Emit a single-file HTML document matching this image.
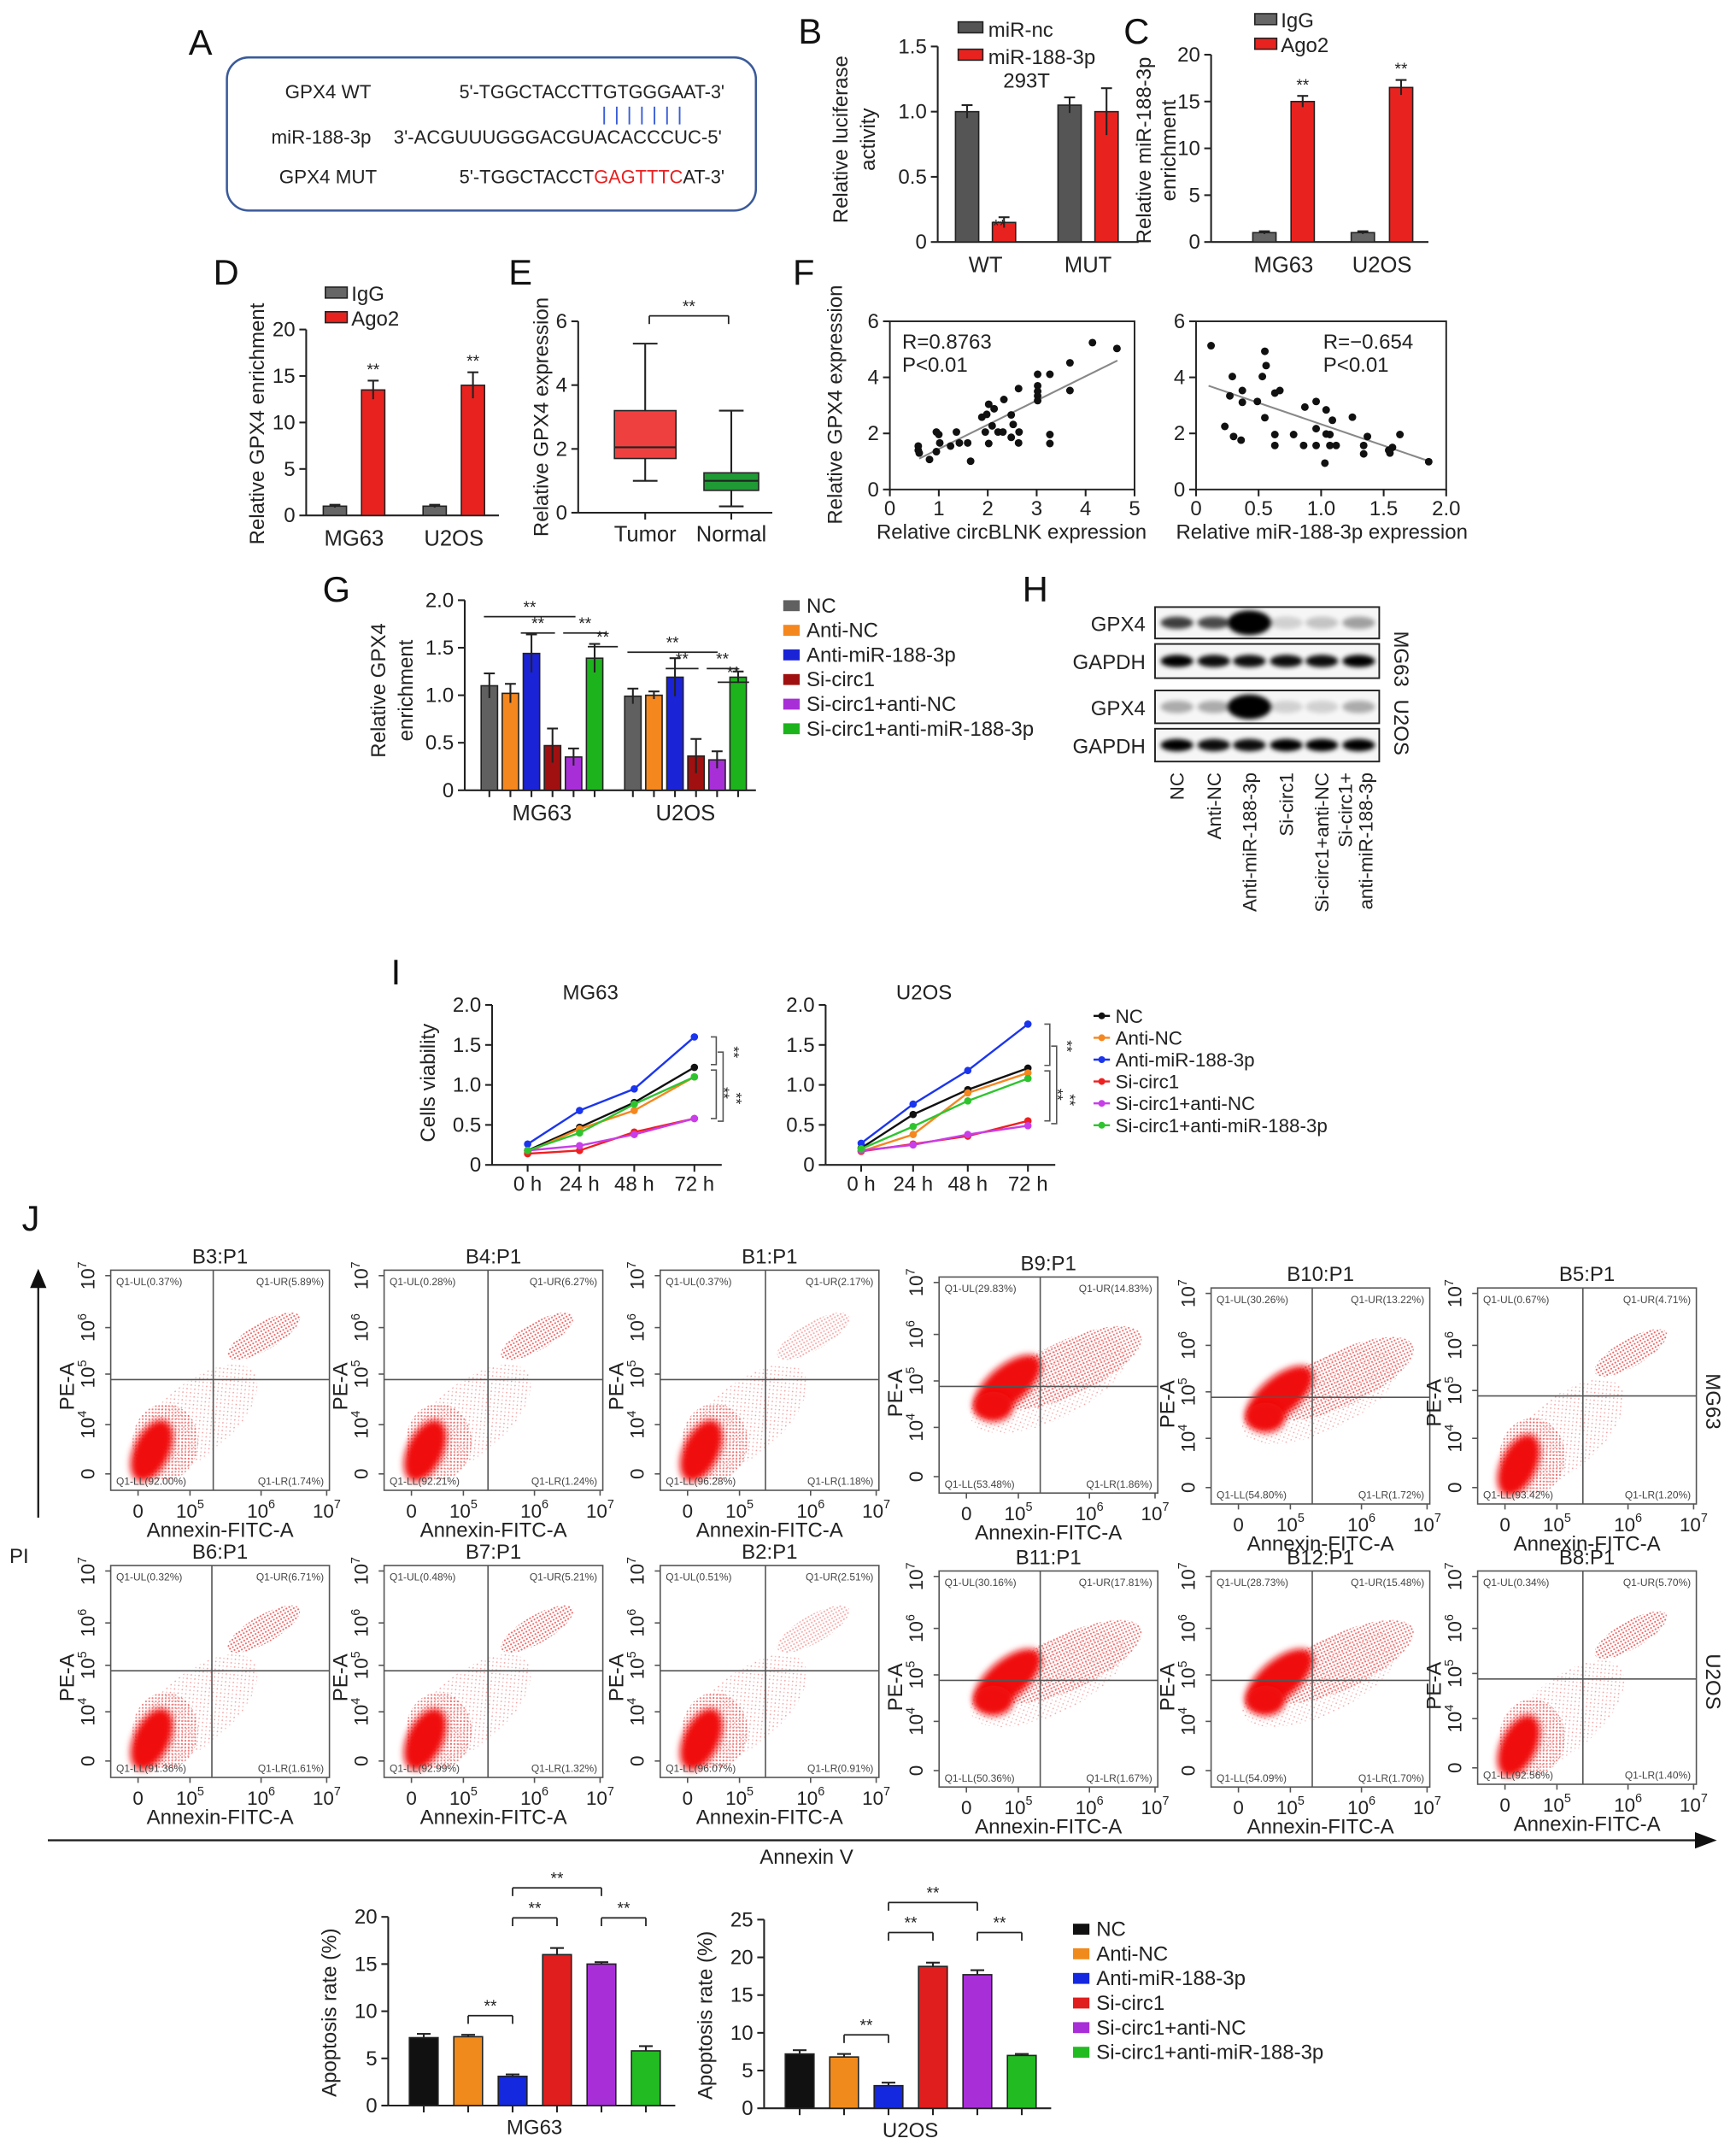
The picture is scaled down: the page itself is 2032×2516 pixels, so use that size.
<!DOCTYPE html>
<html><head><meta charset="utf-8"><style>
html,body{margin:0;padding:0;background:#fff;}
svg{display:block;font-family:"Liberation Sans",Arial,sans-serif;}
</style></head><body>
<svg id="fig" xmlns="http://www.w3.org/2000/svg" width="2032" height="2516" viewBox="0 0 1270 1572.5">
<defs>
<filter id="blur2" x="-50%" y="-50%" width="200%" height="200%"><feGaussianBlur stdDeviation="2.5"/></filter>
<filter id="blur5" x="-50%" y="-50%" width="200%" height="200%"><feGaussianBlur stdDeviation="5"/></filter>
<filter id="blurB" x="-50%" y="-50%" width="200%" height="200%"><feGaussianBlur stdDeviation="1.6"/></filter>
<pattern id="dotsS" width="4" height="4" patternUnits="userSpaceOnUse"><circle cx="1" cy="1" r="0.55" fill="#e02020"/><circle cx="3" cy="3" r="0.5" fill="#e86060"/></pattern>
<pattern id="dotsD" width="2.4" height="2.4" patternUnits="userSpaceOnUse"><circle cx="1.2" cy="1.2" r="0.7" fill="#e01818"/></pattern>
</defs>
<rect x="0" y="0" width="1270" height="1572.5" fill="#fff"/>
</svg>
<script>
const NS='http://www.w3.org/2000/svg';
const svg=document.getElementById('fig');

// ---------- DATA ----------
const bCats=['WT','MUT'];
const bNc=[1.0,1.05], bNcErr=[0.05,0.06];
const bMir=[0.15,1.0], bMirErr=[0.04,0.18];
const bTicks=[0,0.5,1.0,1.5], bTickLabels=['0','0.5','1.0','1.5'];

const cCats=['MG63','U2OS'];
const cIgg=[1,1], cIggErr=[0.15,0.15];
const cAgo=[15,16.5], cAgoErr=[0.6,0.8];
const dIgg=[1,1], dIggErr=[0.15,0.15];
const dAgo=[13.5,14], dAgoErr=[1.0,1.4];
const cdTicks=[0,5,10,15,20], cdTickLabels=['0','5','10','15','20'];

const eCats=['Tumor','Normal'];
const eMin=[1.0,0.2], eQ1=[1.7,0.7], eMed=[2.05,1.0], eQ3=[3.2,1.25], eMax=[5.3,3.2];
const eTicks=[0,2,4,6];

const fX1=[0.58,0.58,0.6,0.81,0.95,1.0,0.95,1.02,1.24,1.36,1.42,1.59,1.65,1.88,1.98,2.02,2.13,1.95,2.02,2.09,2.21,2.31,2.33,2.48,2.52,2.48,2.63,2.64,2.63,3.02,3.02,3.02,3.02,3.02,3.27,3.27,3.27,3.68,3.68,4.14,4.64];
const fY1=[1.55,1.4,1.3,1.07,2.05,1.96,1.35,1.66,1.55,2.05,1.66,1.66,1.01,2.58,2.68,3.04,2.88,2.05,1.64,2.27,2.05,2.05,3.21,2.66,2.32,1.86,3.6,2.05,1.66,4.11,3.7,3.5,3.34,3.17,4.11,1.96,1.64,4.52,3.53,5.24,5.03];
const fFit1=[[0.6,1.1],[4.65,4.6]];
const fX2=[0.12,0.23,0.27,0.29,0.3,0.36,0.37,0.37,0.49,0.53,0.55,0.56,0.55,0.63,0.67,0.63,0.63,0.78,0.86,0.87,0.96,0.96,0.96,1.03,1.04,1.04,1.07,1.07,1.09,1.12,1.25,1.34,1.34,1.37,1.54,1.55,1.57,1.63,1.86];
const fY2=[5.13,2.25,3.34,4.03,1.89,1.76,3.53,3.11,3.14,4.03,4.93,4.42,2.56,3.44,3.53,1.96,1.57,1.96,1.57,2.94,3.14,2.17,1.57,0.94,2.84,1.98,1.96,1.57,2.47,1.57,2.58,1.57,1.27,1.89,1.4,1.3,1.5,1.96,0.99];
const fFit2=[[0.1,3.7],[1.87,1.0]];

const gLegend=['NC','Anti-NC','Anti-miR-188-3p','Si-circ1','Si-circ1+anti-NC','Si-circ1+anti-miR-188-3p'];
const gCats=['MG63','U2OS'];
const gMG63=[1.1,1.02,1.44,0.47,0.35,1.39], gMG63Err=[0.13,0.1,0.2,0.18,0.09,0.15];
const gU2OS=[0.99,1.0,1.19,0.36,0.32,1.19], gU2OSErr=[0.08,0.04,0.2,0.18,0.09,0.06];
const gTicks=[0,0.5,1.0,1.5,2.0], gTickLabels=['0','0.5','1.0','1.5','2.0'];

const iTimes=['0 h','24 h','48 h','72 h'];
const iMG63=[[0.18,0.47,0.78,1.22],[0.16,0.45,0.68,1.1],[0.26,0.68,0.95,1.6],[0.14,0.18,0.41,0.58],[0.18,0.24,0.38,0.58],[0.18,0.4,0.76,1.1]];
const iU2OS=[[0.21,0.63,0.94,1.21],[0.17,0.38,0.9,1.15],[0.27,0.76,1.18,1.76],[0.17,0.26,0.36,0.55],[0.18,0.25,0.38,0.49],[0.2,0.48,0.8,1.08]];
const iTicks=[0,0.5,1.0,1.5,2.0], iTickLabels=['0','0.5','1.0','1.5','2.0'];

const apMG63=[7.2,7.3,3.1,16.0,15.0,5.8], apMG63Err=[0.4,0.2,0.2,0.7,0.2,0.5];
const apU2OS=[7.2,6.8,3.0,18.8,17.7,7.0], apU2OSErr=[0.5,0.4,0.4,0.5,0.6,0.2];
const apTicks1=[0,5,10,15,20], apTicks2=[0,5,10,15,20,25];

const flowTitles=['B3:P1','B4:P1','B1:P1','B9:P1','B10:P1','B5:P1','B6:P1','B7:P1','B2:P1','B11:P1','B12:P1','B8:P1'];
const flowUL=['0.37','0.28','0.37','29.83','30.26','0.67','0.32','0.48','0.51','30.16','28.73','0.34'];
const flowUR=['5.89','6.27','2.17','14.83','13.22','4.71','6.71','5.21','2.51','17.81','15.48','5.70'];
const flowLL=['92.00','92.21','96.28','53.48','54.80','93.42','91.36','92.99','96.07','50.36','54.09','92.56'];
const flowLR=['1.74','1.24','1.18','1.86','1.72','1.20','1.61','1.32','0.91','1.67','1.70','1.40'];

// ---------- helpers ----------
function mk(tag,attrs,name,parent){
  const el=document.createElementNS(NS,tag);
  for(const k in attrs) el.setAttribute(k,attrs[k]);
  
  
  (parent||svg).appendChild(el);
  return el;
}
function T(x,y,s,size,name,o){
  o=o||{};
  const a={x:x,y:y,'font-size':size,fill:o.fill||'#222','text-anchor':o.anchor||'middle'};
  if(o.rot!==undefined) a.transform='rotate('+o.rot+' '+x+' '+y+')';
  if(o.len) {a.textLength=o.len; a.lengthAdjust='spacingAndGlyphs';}
  const el=mk('text',a,name,o.parent);
  el.textContent=s;
  return el;
}
function L(x1,y1,x2,y2,name,o){o=o||{};return mk('line',{x1:x1,y1:y1,x2:x2,y2:y2,stroke:o.c||'#222','stroke-width':o.w||1.3},name,o.parent);}
function R(x,y,w,h,fill,name,o){o=o||{};return mk('rect',{x:x,y:y,width:w,height:h,fill:fill,stroke:o.s||'#222','stroke-width':o.sw===undefined?1:o.sw},name,o.parent);}
function yAxis(ax,y0,yt,vmax,ticks,labels,prefix,fs){
  const sc=v=>y0-(y0-yt)*v/vmax;
  L(ax,yt,ax,y0,prefix+'-y-axis');
  ticks.forEach((t,i)=>{
    L(ax-5,sc(t),ax,sc(t),prefix+'-y-tick');
    T(ax-8,sc(t)+5,labels?labels[i]:String(t),fs||15,prefix+'-y-tick-label',{anchor:'end'});
  });
  return sc;
}
function errBar(x,yv,ye,cap,name){
  L(x,yv,x,ye,name); L(x-cap,ye,x+cap,ye,name+'-cap');
}
function bracket(x1,x2,y,name,drop){
  L(x1,y,x2,y,name,{w:1.1});
  if(drop){L(x1,y,x1,y+drop,name+'-l',{w:1.1});L(x2,y,x2,y+drop,name+'-r',{w:1.1});}
  T((x1+x2)/2,y-3,'**',12,name+'-stars');
}
function panelLabel(x,y,s){T(x,y,s,26,'panel-label-'+s.toLowerCase(),{anchor:'start',fill:'#111'});}

// ---------- Panel A ----------
panelLabel(138,40,'A');
mk('rect',{x:166,y:42,width:387,height:112,rx:16,fill:'none',stroke:'#3a5a9a','stroke-width':1.6},'sequence-box');
T(240,72,'GPX4 WT',14,'gpx4-wt-label');
T(336,72,"5'-TGGCTACCTTGTGGGAAT-3'",14,'gpx4-wt-sequence',{anchor:'start',len:194});
T(235,105,'miR-188-3p',14,'mir-label');
T(288,105,"3'-ACGUUUGGGACGUACACCCUC-5'",14,'mir-sequence',{anchor:'start',len:240});
for(let k=0;k<7;k++) L(442+k*9.2,78,442+k*9.2,91,'pairing-line',{c:'#3a5ed8',w:1.2});
T(240,134,'GPX4 MUT',14,'gpx4-mut-label');
(function(){
  const t=mk('text',{x:336,y:134,'font-size':14,fill:'#222','text-anchor':'start',textLength:194,lengthAdjust:'spacingAndGlyphs'},'gpx4-mut-sequence');
  const a=mk('tspan',{},'mut-seq-start',t); a.textContent="5'-TGGCTACCT";
  const b=mk('tspan',{fill:'#e82020'},'mut-seq-mutated',t); b.textContent="GAGTTTC";
  const c=mk('tspan',{},'mut-seq-end',t); c.textContent="AT-3'";
})();

// ---------- generic grouped bars ----------
function groupBars(cfg){
  const sc=yAxis(cfg.ax,cfg.y0,cfg.yt,cfg.vmax,cfg.ticks,cfg.labels,cfg.name,cfg.fs);
  L(cfg.ax,cfg.y0,cfg.xEnd,cfg.y0,cfg.name+'-x-axis');
  const n=cfg.series.length;
  cfg.centers.forEach((cx,gi)=>{
    cfg.series.forEach((s,si)=>{
      const bx=cx+(si-(n-1)/2)*cfg.step;
      const v=s.vals[gi], e=s.errs[gi];
      R(bx-cfg.bw/2,sc(v),cfg.bw,cfg.y0-sc(v),s.color,cfg.name+'-bar',{s:'#222',sw:1});
      errBar(bx,sc(v),sc(v+e),cfg.cap||3,cfg.name+'-error-bar');
      if(cfg.lowErr) L(bx,sc(v),bx,sc(Math.max(0,v-e)),cfg.name+'-error-low');
      if(cfg.xticks) L(bx,cfg.y0,bx,cfg.y0+5,cfg.name+'-x-tick');
    });
    if(cfg.cats) T(cx,cfg.catY,cfg.cats[gi],cfg.catFs||16,cfg.name+'-category-label');
  });
  return sc;
}

// ---------- Panel B ----------
panelLabel(584,32,'B');
groupBars({name:'b',ax:686,y0:177,yt:34,vmax:1.5,ticks:bTicks,labels:bTickLabels,xEnd:833,centers:[721,796],step:27,bw:17,cap:4,
  series:[{vals:bNc,errs:bNcErr,color:'#555'},{vals:bMir,errs:bMirErr,color:'#e8231f'}],cats:bCats,catY:199,lowErr:true});
T(731,169,'**',12,'b-significance');
R(701,16,18,8,'#555','b-legend-swatch-nc');T(723,27,'miR-nc',15,'b-legend-nc',{anchor:'start'});
R(701,36,18,8,'#e8231f','b-legend-swatch-mir');T(723,47,'miR-188-3p',15,'b-legend-mir',{anchor:'start'});
T(751,64,'293T',15,'b-subtitle');
T(620,102,'Relative luciferase',15,'b-y-title-1',{rot:-90});
T(640,102,'activity',15,'b-y-title-2',{rot:-90});

// ---------- Panel C ----------
panelLabel(822,32,'C');
const scC=groupBars({name:'c',ax:886,y0:177,yt:40,vmax:20,ticks:cdTicks,labels:cdTickLabels,xEnd:1045,centers:[939,1011],step:28,bw:17,cap:4,
  series:[{vals:cIgg,errs:cIggErr,color:'#666'},{vals:cAgo,errs:cAgoErr,color:'#e8231f'}],cats:cCats,catY:199,lowErr:true});
cAgo.forEach((v,i)=>T([939,1011][i]+14,scC(v+cAgoErr[i])-4,'**',12,'c-significance'));
R(918,10,16,8,'#666','c-legend-swatch-igg');T(937,20,'IgG',15,'c-legend-igg',{anchor:'start'});
R(918,28,16,8,'#e8231f','c-legend-swatch-ago2');T(937,38,'Ago2',15,'c-legend-ago2',{anchor:'start'});
T(842,110,'Relative miR-188-3p',15,'c-y-title-1',{rot:-90});
T(860,110,'enrichment',15,'c-y-title-2',{rot:-90});

// ---------- Panel D ----------
panelLabel(156,208,'D');
const scD=groupBars({name:'d',ax:224,y0:377,yt:241,vmax:20,ticks:cdTicks,labels:cdTickLabels,xEnd:365,centers:[259,332],step:28,bw:17,cap:4,
  series:[{vals:dIgg,errs:dIggErr,color:'#666'},{vals:dAgo,errs:dAgoErr,color:'#e8231f'}],cats:cCats,catY:399,lowErr:true});
dAgo.forEach((v,i)=>T([259,332][i]+14,scD(v+dAgoErr[i])-4,'**',12,'d-significance'));
R(238,210,16,8,'#666','d-legend-swatch-igg');T(257,220,'IgG',15,'d-legend-igg',{anchor:'start'});
R(238,228,16,8,'#e8231f','d-legend-swatch-ago2');T(257,238,'Ago2',15,'d-legend-ago2',{anchor:'start'});
T(193,310,'Relative GPX4 enrichment',15,'d-y-title',{rot:-90});

// ---------- Panel E ----------
panelLabel(372,208,'E');
(function(){
  const y0=375,yt=235,sc=yAxis(423,y0,yt,6,eTicks,null,'e');
  L(423,y0,565,y0,'e-x-axis');
  const cx=[472,535], w=[45,40], fill=['#ef4040','#1f9a35'];
  eCats.forEach((c,i)=>{
    L(cx[i],sc(eMax[i]),cx[i],sc(eMin[i]),'e-whisker');
    L(cx[i]-9,sc(eMax[i]),cx[i]+9,sc(eMax[i]),'e-whisker-cap-top');
    L(cx[i]-9,sc(eMin[i]),cx[i]+9,sc(eMin[i]),'e-whisker-cap-bottom');
    R(cx[i]-w[i]/2,sc(eQ3[i]),w[i],sc(eQ1[i])-sc(eQ3[i]),fill[i],'e-box-'+c.toLowerCase());
    L(cx[i]-w[i]/2,sc(eMed[i]),cx[i]+w[i]/2,sc(eMed[i]),'e-median');
    L(cx[i],y0,cx[i],y0+5,'e-x-tick');
    T(cx[i],396,c,16,'e-category-label');
  });
  bracket(475,533,231,'e-significance',6);
  T(401,305,'Relative GPX4 expression',15,'e-y-title',{rot:-90});
})();

// ---------- Panel F ----------
panelLabel(580,208,'F');
function scatter(name,x0,x1,y0,y1,xmax,xt,xl,X,Y,fit,rtxt,ptxt,tx){
  const sx=v=>x0+(x1-x0)*v/xmax, sy=v=>y0-(y0-y1)*v/6;
  R(x0,y1,x1-x0,y0-y1,'none',name+'-frame',{sw:1.2});
  [0,2,4,6].forEach(t=>{L(x0-5,sy(t),x0,sy(t),name+'-y-tick');T(x0-8,sy(t)+5,String(t),15,name+'-y-tick-label',{anchor:'end'});});
  xt.forEach((t,i)=>{L(sx(t),y0,sx(t),y0+5,name+'-x-tick');T(sx(t),y0+19,xl[i],15,name+'-x-tick-label');});
  L(sx(fit[0][0]),sy(fit[0][1]),sx(fit[1][0]),sy(fit[1][1]),name+'-fit-line',{c:'#888',w:1.3});
  X.forEach((v,i)=>mk('circle',{cx:sx(v),cy:sy(Y[i]),r:2.8,fill:'#111'},name+'-point'));
  T(tx,y1+20,rtxt,15,name+'-r-value',{anchor:'start'});
  T(tx,y1+37,ptxt,15,name+'-p-value',{anchor:'start'});
}
scatter('f-left',651,830,358,235,5,[0,1,2,3,4,5],['0','1','2','3','4','5'],fX1,fY1,fFit1,'R=0.8763','P<0.01',660);
scatter('f-right',875,1058,358,235,2,[0,0.5,1,1.5,2],['0','0.5','1.0','1.5','2.0'],fX2,fY2,fFit2,'R=−0.654','P<0.01',968);
T(740,394,'Relative circBLNK expression',15,'f-left-x-title');
T(967,394,'Relative miR-188-3p expression',15,'f-right-x-title');
T(616,296,'Relative GPX4 expression',15,'f-y-title',{rot:-90});

// ---------- Panel G ----------
panelLabel(236,440,'G');
const gColors=['#606060','#f5871f','#1b23d6','#a01010','#a82fd8','#1db31d'];
groupBars({name:'g',ax:340,y0:578,yt:439,vmax:2,ticks:gTicks,labels:gTickLabels,xEnd:553,centers:[396.5,501.5],step:15.4,bw:12,cap:4,
  series:gColors.map((c,i)=>({vals:[gMG63[i],gU2OS[i]],errs:[gMG63Err[i],gU2OSErr[i]],color:c})),cats:gCats,catY:600,lowErr:true,xticks:true});
bracket(354,421,451,'g-bracket-mg63-a');bracket(381,406,463,'g-bracket-mg63-b');
bracket(412,444,463,'g-bracket-mg63-c');bracket(430,452,473,'g-bracket-mg63-d');
bracket(459,525,477,'g-bracket-u2os-a');bracket(487,511,489,'g-bracket-u2os-b');
bracket(517,540,489,'g-bracket-u2os-c');bracket(525,548,499,'g-bracket-u2os-d');
gLegend.forEach((s,i)=>{R(573,439+i*18,12,8,gColors[i],'g-legend-swatch',{s:'none',sw:0});T(590,448+i*18,s,15,'g-legend-entry',{anchor:'start'});});
T(282,505,'Relative GPX4',15,'g-y-title-1',{rot:-90});
T(302,505,'enrichment',15,'g-y-title-2',{rot:-90});

// ---------- Panel H ----------
panelLabel(748,440,'H');
(function(){
  const lanes=[861,888,914,941,967,994];
  const rows=[[444,467],[471,496],[505,529],[533,557]];
  const names=['GPX4','GAPDH','GPX4','GAPDH'];
  const inten=[[0.75,0.7,1,0.15,0.2,0.35],[1,0.95,0.95,0.95,0.95,1],[0.3,0.3,1,0.15,0.15,0.3],[1,0.95,0.95,1,1,1]];
  rows.forEach((r,ri)=>{
    R(845,r[0],164,r[1]-r[0],'#f6f6f6','h-blot-'+names[ri].toLowerCase(),{sw:1.2});
    T(838,(r[0]+r[1])/2+6,names[ri],15,'h-row-label',{anchor:'end'});
    lanes.forEach((lx,li)=>{
      const v=inten[ri][li];
      const big=(ri===0||ri===2)&&li===2;
      mk('ellipse',{cx:lx,cy:(r[0]+r[1])/2,rx:big?16:12,ry:big?9:4.5,fill:'#000',opacity:v,filter:'url(#blurB)'},'h-band');
    });
  });
  T(1020,482,'MG63',15,'h-cell-mg63',{rot:90});
  T(1020,532,'U2OS',15,'h-cell-u2os',{rot:90});
  const lab=['NC','Anti-NC','Anti-miR-188-3p','Si-circ1','Si-circ1+anti-NC'];
  lab.forEach((s,i)=>T(lanes[i]+5,565,s,14,'h-lane-label',{rot:-90,anchor:'end'}));
  T(989,565,'Si-circ1+',14,'h-lane-label',{rot:-90,anchor:'end'});
  T(1004,565,'anti-miR-188-3p',14,'h-lane-label',{rot:-90,anchor:'end'});
})();

// ---------- Panel I ----------
panelLabel(286,720,'I');
const iColors=['#111','#f5871f','#1b35ee','#ee2020','#c83ee8','#2fc42f'];
function lineChart(name,ax,title,data){
  const y0=852,yt=735,sc=yAxis(ax,y0,yt,2,iTicks,iTickLabels,name);
  const xs=[ax+26,ax+64,ax+104,ax+148];
  L(ax,y0,ax+168,y0,name+'-x-axis');
  iTimes.forEach((t,i)=>{L(xs[i],y0,xs[i],y0+5,name+'-x-tick');T(xs[i],y0+19,t,15,name+'-x-tick-label');});
  T(ax+72,731,title,15,name+'-title');
  data.forEach((ser,si)=>{
    const pts=ser.map((v,i)=>xs[i]+','+sc(v)).join(' ');
    mk('polyline',{points:pts,fill:'none',stroke:iColors[si],'stroke-width':1.5},name+'-line-'+si);
    ser.forEach((v,i)=>mk('circle',{cx:xs[i],cy:sc(v),r:2.7,fill:iColors[si]},name+'-point'));
  });
  const xb=xs[3]+12;
  const sTop=sc(data[2][3]), sMid=sc(data[0][3]), sBot=sc(data[3][3]);
  mk('path',{d:`M${xb} ${sTop}h4V${sMid-2}h-4`,fill:'none',stroke:'#555','stroke-width':1},name+'-bracket-1');
  mk('path',{d:`M${xb} ${sMid+2}h4V${sBot}h-4`,fill:'none',stroke:'#555','stroke-width':1},name+'-bracket-2');
  mk('path',{d:`M${xb+5} ${(sTop+sMid)/2}h4V${sBot+2}h-4`,fill:'none',stroke:'#555','stroke-width':1},name+'-bracket-3');
  T(xb+13,(sTop+sMid)/2,'**',11,name+'-sig-1',{rot:90});
  T(xb+6,(sMid+sBot)/2,'**',11,name+'-sig-2',{rot:90});
  T(xb+15,(sMid+sBot)/2+4,'**',11,name+'-sig-3',{rot:90});
}
lineChart('i-mg63',360,'MG63',iMG63);
lineChart('i-u2os',604,'U2OS',iU2OS);
T(318,792,'Cells viability',15,'i-y-title',{rot:-90});
gLegend.forEach((s,i)=>{
  L(800,743+i*16,812,743+i*16,'i-legend-line',{c:iColors[i],w:1.5});
  mk('circle',{cx:806,cy:743+i*16,r:2.5,fill:iColors[i]},'i-legend-marker');
  T(816,748+i*16,s,14,'i-legend-entry',{anchor:'start'});
});

// ---------- Panel J (flow plots) ----------
panelLabel(16,900,'J');
const flowFrames=[[81,929,1090,156,1009],[281,929,1090,357,1009],[483,929,1090,560,1009],[687,934,1092,761,1014],[886,942,1100,960,1022],[1081,942,1100,1158,1021],
                  [81,1145,1300,155,1222],[281,1145,1300,357,1222],[483,1145,1300,560,1222],[687,1149,1307,761,1229],[886,1149,1307,960,1229],[1081,1149,1305,1158,1228]];
const deadIdx=[3,4,9,10];
function sup(parent,x,y,rot,name){
  const t=mk('text',{x:x,y:y,'font-size':14,fill:'#222','text-anchor':'middle',transform:rot?`rotate(-90 ${x} ${y})`:''},name,parent);
  return t;
}
flowFrames.forEach((f,k)=>{
  const [fx,fy,fb,cx,cy]=f, w=160, h=fb-fy;
  const g=mk('g',{},'flow-plot-'+flowTitles[k].toLowerCase().replace(':','-'));
  const dead=deadIdx.indexOf(k)>=0;
  const clip=mk('clipPath',{id:'clip'+k},'flow-clip',g);
  mk('rect',{x:fx,y:fy,width:w,height:h},'flow-clip-rect',clip);
  const cg=mk('g',{'clip-path':'url(#clip'+k+')'},'flow-events',g);
  if(!dead){
    mk('ellipse',{cx:fx+62,cy:fy+h*0.68,rx:55,ry:26,fill:'url(#dotsS)',opacity:0.45,transform:`rotate(-40 ${fx+62} ${fy+h*0.68})`},'flow-sparse-events',cg);
    mk('ellipse',{cx:fx+112,cy:fy+h*0.3,rx:30,ry:10,fill:'url(#dotsD)',opacity:k===2||k===8?0.35:0.65,transform:`rotate(-30 ${fx+112} ${fy+h*0.3})`},'flow-ur-cluster',cg);
    mk('ellipse',{cx:fx+40,cy:fy+h*0.78,rx:24,ry:28,fill:'url(#dotsD)',opacity:0.55},'flow-ll-halo',cg);
    mk('ellipse',{cx:fx+30,cy:fy+h*0.82,rx:13,ry:24,fill:'#f01010',filter:'url(#blur2)',transform:`rotate(25 ${fx+30} ${fy+h*0.82})`},'flow-ll-cluster',cg);
  } else {
    mk('ellipse',{cx:fx+95,cy:fy+h*0.42,rx:58,ry:20,fill:'url(#dotsD)',opacity:0.6,transform:`rotate(-25 ${fx+95} ${fy+h*0.42})`},'flow-spread-events',cg);
    mk('ellipse',{cx:fx+80,cy:fy+h*0.5,rx:62,ry:26,fill:'url(#dotsS)',opacity:0.4,transform:`rotate(-25 ${fx+80} ${fy+h*0.5})`},'flow-sparse-events',cg);
    mk('ellipse',{cx:fx+50,cy:fy+h*0.5,rx:30,ry:14,fill:'#f01010',filter:'url(#blur2)',transform:`rotate(-40 ${fx+50} ${fy+h*0.5})`},'flow-main-cluster',cg);
    mk('ellipse',{cx:fx+40,cy:fy+h*0.6,rx:14,ry:11,fill:'#f01010',filter:'url(#blur2)'},'flow-main-cluster-2',cg);
  }
  R(fx,fy,w,h,'none','flow-frame',{s:'#555',sw:1,parent:g});
  L(cx,fy,cx,fb,'flow-quadrant-v',{c:'#555',w:1,parent:g});
  L(fx,cy,fx+w,cy,'flow-quadrant-h',{c:'#555',w:1,parent:g});
  T(fx+4,fy+11,'Q1-UL('+flowUL[k]+'%)',7.5,'flow-ul-label',{anchor:'start',fill:'#444',parent:g});
  T(fx+w-4,fy+11,'Q1-UR('+flowUR[k]+'%)',7.5,'flow-ur-label',{anchor:'end',fill:'#444',parent:g});
  T(fx+4,fb-4,'Q1-LL('+flowLL[k]+'%)',7.5,'flow-ll-label',{anchor:'start',fill:'#444',parent:g});
  T(fx+w-4,fb-4,'Q1-LR('+flowLR[k]+'%)',7.5,'flow-lr-label',{anchor:'end',fill:'#444',parent:g});
  T(fx+w/2,fy-5,flowTitles[k],15,'flow-title',{parent:g});
  const yl=[[fb-12,'0',''],[fb-48,'10','4'],[cy-4,'10','5'],[fy+42,'10','6'],[fy+4,'10','7']];
  yl.forEach(p=>{
    const t=sup(g,fx-12,p[0],true,'flow-y-tick-label');
    t.textContent=p[1];
    if(p[2]){const s=mk('tspan',{dy:-6,'font-size':9},'flow-tick-exp',t);s.textContent=p[2];}
    L(fx-4,p[0],fx,p[0],'flow-y-tick',{c:'#555',w:1,parent:g});
  });
  const xl=[[fx+20,'0',''],[fx+58,'10','5'],[fx+110,'10','6'],[fx+158,'10','7']];
  xl.forEach(p=>{
    const t=sup(g,p[0],fb+20,false,'flow-x-tick-label');
    t.textContent=p[1];
    if(p[2]){const s=mk('tspan',{dy:-7,'font-size':9},'flow-tick-exp',t);s.textContent=p[2];}
    L(p[0],fb,p[0],fb+4,'flow-x-tick',{c:'#555',w:1,parent:g});
  });
  T(fx+w/2,fb+34,'Annexin-FITC-A',15,'flow-x-title',{parent:g});
  T(fx-27,cy+5,'PE-A',15,'flow-y-title',{rot:-90,parent:g});
});
T(1248,1025,'MG63',15,'j-row-mg63',{rot:90});
T(1248,1230,'U2OS',15,'j-row-u2os',{rot:90});
L(28,1110,28,940,'pi-axis-arrow',{w:1.5});
mk('path',{d:'M22 942 L28 928 L34 942 Z',fill:'#111'},'pi-arrow-head');
T(14,1143,'PI',15,'pi-axis-title');
L(35,1346,1242,1346,'annexin-axis-arrow',{w:1.5});
mk('path',{d:'M1240 1340 L1256 1346 L1240 1352 Z',fill:'#111'},'annexin-arrow-head');
T(590,1363,'Annexin V',15,'annexin-axis-title');

// ---------- Apoptosis bars ----------
const apColors=['#111','#f08a1c','#1428e0','#e01e1e','#a82fd8','#22bb22'];
function apChart(name,ax,y0,yt,vmax,ticks,vals,errs,cat){
  const sc=yAxis(ax,y0,yt,vmax,ticks,null,name);
  L(ax,y0,ax+210,y0,name+'-x-axis');
  vals.forEach((v,i)=>{
    const bx=ax+26+i*32.5;
    R(bx-10.5,sc(v),21,y0-sc(v),apColors[i],name+'-bar');
    errBar(bx,sc(v),sc(v+errs[i]),5,name+'-error-bar');
    L(bx,y0,bx,y0+5,name+'-x-tick');
  });
  T(ax+107,y0+21,cat,15,name+'-category-label');
  const bx=i=>ax+26+i*32.5;
  const top=Math.max(vals[3]+errs[3],vals[4]+errs[4]);
  bracket(bx(1),bx(2),sc(vals[1]+errs[1])-14,name+'-sig-1',6);
  bracket(bx(2),bx(3),sc(top)-22,name+'-sig-2',6);
  bracket(bx(4),bx(5),sc(top)-22,name+'-sig-3',6);
  bracket(bx(2),bx(4),sc(top)-44,name+'-sig-4',6);
  T(ax-38,y0-68,'Apoptosis rate (%)',15,name+'-y-title',{rot:-90});
}
apChart('ap-mg63',284,1540,1402,20,apTicks1,apMG63,apMG63Err,'MG63');
apChart('ap-u2os',559,1542,1404,25,apTicks2,apU2OS,apU2OSErr,'U2OS');
gLegend.forEach((s,i)=>{R(785,1407+i*18,12,8,apColors[i],'ap-legend-swatch',{s:'none',sw:0});T(802,1416+i*18,s,15,'ap-legend-entry',{anchor:'start'});});
</script>
</body></html>
